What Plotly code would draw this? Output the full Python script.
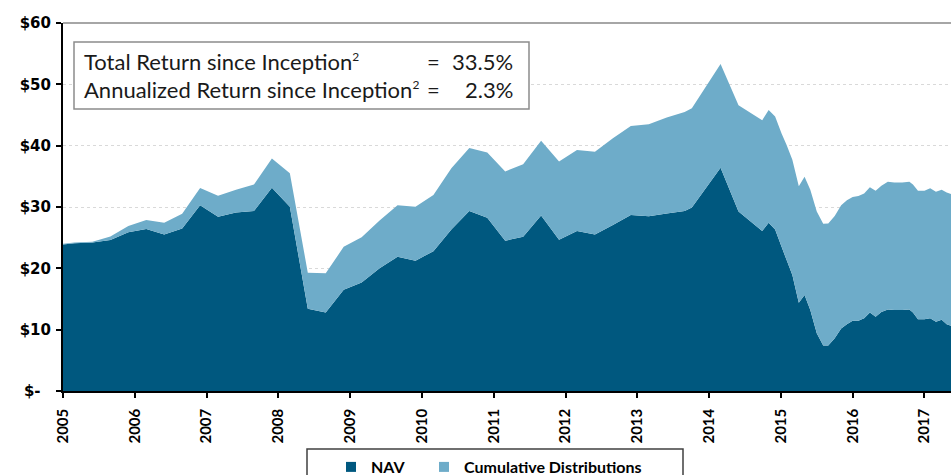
import plotly.graph_objects as go

# ---- data ----
dates = [2005.00, 2005.16, 2005.41, 2005.66, 2005.91, 2006.16, 2006.41, 2006.66, 2006.91,
         2007.16, 2007.41, 2007.66, 2007.91, 2008.16, 2008.41, 2008.66, 2008.91, 2009.16,
         2009.41, 2009.66, 2009.91, 2010.16, 2010.41, 2010.66, 2010.91, 2011.16, 2011.41,
         2011.66, 2011.91, 2012.16, 2012.41, 2012.66, 2012.91, 2013.16, 2013.41, 2013.66,
         2013.76, 2014.16, 2014.41, 2014.74, 2014.83, 2014.92, 2015.01, 2015.08, 2015.16,
         2015.25, 2015.33, 2015.41, 2015.50, 2015.59, 2015.66, 2015.75, 2015.84, 2015.92,
         2016.00, 2016.08, 2016.16, 2016.24, 2016.32, 2016.40, 2016.49, 2016.58, 2016.69,
         2016.79, 2016.84, 2016.91, 2017.00, 2017.08, 2017.16, 2017.24, 2017.31, 2017.37]

nav = [23.9, 24.1, 24.2, 24.6, 25.9, 26.4, 25.5, 26.5, 30.3,
       28.4, 29.1, 29.35, 33.15, 30.05, 13.4, 12.8, 16.5, 17.7,
       20.0, 21.9, 21.25, 22.8, 26.35, 29.35, 28.25, 24.5, 25.15,
       28.6, 24.65, 26.1, 25.5, 27.05, 28.7, 28.5, 28.95, 29.35,
       29.9, 36.4, 29.25, 26.1, 27.45, 26.35, 23.5, 21.35, 18.9,
       14.4, 15.65, 13.2, 9.4, 7.4, 7.4, 8.6, 10.2, 10.9,
       11.45, 11.45, 11.85, 12.8, 12.1, 12.9, 13.3, 13.2, 13.2,
       13.3, 12.8, 11.7, 11.7, 11.85, 11.3, 11.6, 10.9, 10.65]

cum_dist = [0.1, 0.1, 0.15, 0.6, 1.0, 1.5, 1.95, 2.4, 2.8,
            3.45, 3.7, 4.3, 4.75, 5.45, 5.9, 6.4, 7.0, 7.35,
            7.8, 8.4, 8.8, 9.15, 9.95, 10.25, 10.65, 11.3, 11.8,
            12.2, 12.75, 13.2, 13.5, 14.15, 14.5, 15.0, 15.65, 16.15,
            16.2, 16.9, 17.35, 18.05, 18.35, 18.4, 18.5, 18.75, 18.8,
            19.0, 19.3, 19.6, 19.85, 19.85, 19.9, 19.95, 20.1, 20.2,
            20.2, 20.35, 20.35, 20.4, 20.55, 20.55, 20.8, 20.8, 20.8,
            20.8, 20.85, 20.95, 20.95, 21.2, 21.2, 21.2, 21.45, 21.45]

year_ticks = [2005, 2006, 2007, 2008, 2009, 2010, 2011, 2012, 2013, 2014, 2015, 2016, 2017]
year_labels = [str(y) for y in year_ticks]
y_ticks = [0, 10, 20, 30, 40, 50, 60]
y_labels = ["$-\u2007", "$10", "$20", "$30", "$40", "$50", "$60"]

SUP = "<sup><span style='font-size:12px'>2</span></sup>"
stat_labels = ["Total Return since Inception" + SUP,
               "Annualized Return since Inception" + SUP]
stat_values = ["33.5%", "2.3%"]

NAV_COLOR = "#00587f"
DIST_COLOR = "#6eacc9"
FONT = "Lato"

# ---- geometry helpers (pixel -> paper) ----
L, T, R, B = 63, 23, 951, 391
def px(x):
    return (x - L) / (R - L)
def py(y):
    return (B - y) / (B - T)

fig = go.Figure()
fig.add_trace(go.Scatter(x=dates, y=nav, mode="none", stackgroup="one",
                         fillcolor=NAV_COLOR, name="NAV", showlegend=False,
                         hoverinfo="x+y"))
fig.add_trace(go.Scatter(x=dates, y=cum_dist, mode="none", stackgroup="one",
                         fillcolor=DIST_COLOR, name="Cumulative Distributions",
                         showlegend=False, hoverinfo="x+y"))
# legend entries (square swatches), each in its own legend box for precise placement
fig.add_trace(go.Scatter(x=[None], y=[None], mode="markers", name="NAV", legend="legend",
                         marker=dict(symbol="square", size=10, color=NAV_COLOR)))
fig.add_trace(go.Scatter(x=[None], y=[None], mode="markers", name="Cumulative Distributions",
                         legend="legend2",
                         marker=dict(symbol="square", size=10, color=DIST_COLOR)))

shapes = [
    # top border line at $60
    dict(type="line", xref="paper", yref="paper", x0=0, x1=1, y0=1, y1=1,
         line=dict(color="#a6a6a6", width=2), layer="above"),
    # stats box
    dict(type="rect", xref="paper", yref="paper", x0=px(74), x1=px(529), y0=py(109), y1=py(42),
         line=dict(color="#8c8c8c", width=1.5), fillcolor="white", layer="above"),
    # legend box
    dict(type="rect", xref="paper", yref="paper", x0=px(307), x1=px(683), y0=py(490), y1=py(449),
         line=dict(color="#404040", width=1.5), fillcolor="rgba(0,0,0,0)", layer="above"),
]

annotations = []
line_y = [61, 90]
for lbl, val, yy in zip(stat_labels, stat_values, line_y):
    annotations.append(dict(xref="paper", yref="paper", x=px(82), y=py(yy), xanchor="left",
                            yanchor="middle", text=lbl, showarrow=False,
                            font=dict(family=FONT, size=22, color="#1a1a1a")))
    annotations.append(dict(xref="paper", yref="paper", x=px(433.5), y=py(yy), xanchor="center",
                            yanchor="middle", text="=", showarrow=False,
                            font=dict(family=FONT, size=22, color="#1a1a1a")))
    annotations.append(dict(xref="paper", yref="paper", x=px(515), y=py(yy), xanchor="right",
                            yanchor="middle", text=val, showarrow=False,
                            font=dict(family=FONT, size=22, color="#1a1a1a")))

legend_common = dict(orientation="h", xanchor="left", yanchor="top", y=py(450),
                     font=dict(family=FONT, size=16, color="black", weight="bold"),
                     bgcolor="rgba(0,0,0,0)", borderwidth=0)

fig.update_layout(
    width=951, height=475,
    margin=dict(l=L, r=951 - R, t=T, b=475 - B, autoexpand=False),
    paper_bgcolor="white", plot_bgcolor="white",
    font=dict(family=FONT, color="black"),
    showlegend=True,
    legend=dict(x=px(331), **legend_common),
    legend2=dict(x=px(424), **legend_common),
    xaxis=dict(range=[2005, 2017.37], tickmode="array", tickvals=year_ticks, ticktext=year_labels,
               tickangle=-90, ticks="outside", ticklen=5, tickwidth=1.5, tickcolor="black",
               showline=True, linecolor="black", linewidth=1.5, showgrid=False, zeroline=False,
               automargin=False, ticklabelstandoff=5,
               tickfont=dict(family=FONT, size=15, color="black", weight="bold")),
    yaxis=dict(range=[0, 60], tickmode="array", tickvals=y_ticks, ticktext=y_labels,
               ticks="outside", ticklen=5, tickwidth=1.5, tickcolor="black",
               showline=True, linecolor="black", linewidth=2, zeroline=False,
               showgrid=True, gridcolor="#d9d9d9", griddash="dot", gridwidth=1,
               automargin=False, ticklabelstandoff=2,
               tickfont=dict(family="DejaVu Sans", size=15, color="black", weight="bold")),
    shapes=shapes,
    annotations=annotations,
)

fig.write_html("out.html", config={"displayModeBar": False},
               post_script="document.body.style.margin='0';document.body.style.overflow='hidden';")
